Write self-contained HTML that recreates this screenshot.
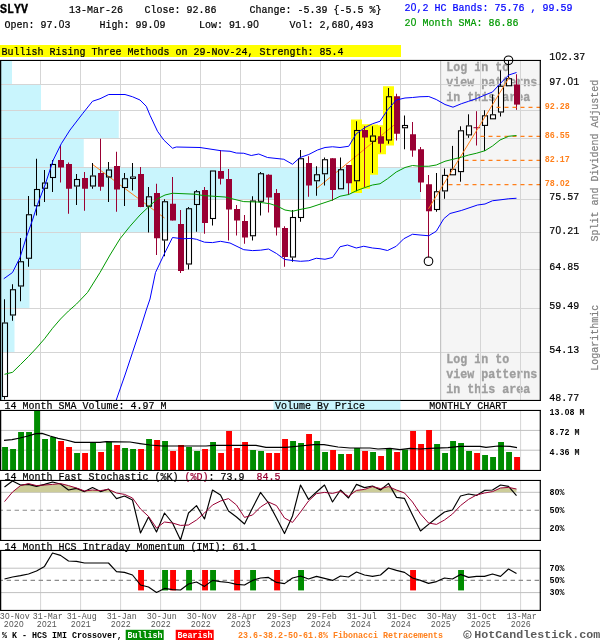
<!DOCTYPE html>
<html><head><meta charset="utf-8"><title>SLYV Monthly Chart</title>
<style>html,body{margin:0;padding:0;background:#fff;}svg{display:block;font-family:"Liberation Mono",monospace;will-change:transform;}text{white-space:pre;}.z{font-family:"Liberation Sans",sans-serif;}</style>
</head><body>
<svg width="600" height="640" viewBox="0 0 600 640" xml:space="preserve">
<rect x="0" y="0" width="600" height="640" fill="#fff"/>
<text transform="translate(0,12.8) scale(1,1.12)" x="0.00 7.00 14.00 21.00" font-size="11.667" font-weight="bold" fill="#000" stroke="#000" stroke-width="0.3" >SLYV</text>
<text transform="translate(69,12.7) scale(1,1.18)" x="0.00 6.00 12.00 18.00 24.00 30.00 36.00 42.00 48.00" font-size="10" fill="#000" stroke="#000" stroke-width="0.2" >13-Mar-26</text>
<text transform="translate(144.5,12.7) scale(1,1.18)" x="0.00 6.00 12.00 18.00 24.00 30.00 36.00 42.00 48.00 54.00 60.00 66.00" font-size="10" fill="#000" stroke="#000" stroke-width="0.2" >Close: 92.86</text>
<text transform="translate(249.5,12.7) scale(1,1.18)" x="0.00 6.00 12.00 18.00 24.00 30.00 36.00 42.00 48.00 54.00 60.00 66.00 72.00 78.00 84.00 90.00 96.00 102.00 108.00 114.00 120.00 126.00" font-size="10" fill="#000" stroke="#000" stroke-width="0.2" >Change: -5.39 {-5.5 %}</text>
<text transform="translate(404.5,10.8) scale(1,1.18)" x="0.00 6.25 12.00 18.00 24.00 30.00 36.00 42.00 48.00 54.00 60.00 66.00 72.00 78.00 84.00 90.00 96.00 102.00 108.00 114.00 120.00 126.00 132.00 138.00 144.00 150.00 156.00 162.00" font-size="10" fill="#0000ff" stroke="#0000ff" stroke-width="0.2" >2<tspan class="z">0</tspan>,2 HC Bands: 75.76 , 99.59</text>
<text transform="translate(4.5,27.7) scale(1,1.18)" x="0.00 6.00 12.00 18.00 24.00 30.00 36.00 42.00 48.00 54.25 60.00" font-size="10" fill="#000" stroke="#000" stroke-width="0.2" >Open: 97.<tspan class="z">0</tspan>3</text>
<text transform="translate(99.5,27.7) scale(1,1.18)" x="0.00 6.00 12.00 18.00 24.00 30.00 36.00 42.00 48.00 54.25 60.00" font-size="10" fill="#000" stroke="#000" stroke-width="0.2" >High: 99.<tspan class="z">0</tspan>9</text>
<text transform="translate(199,27.7) scale(1,1.18)" x="0.00 6.00 12.00 18.00 24.00 30.00 36.00 42.00 48.00 54.25" font-size="10" fill="#000" stroke="#000" stroke-width="0.2" >Low: 91.9<tspan class="z">0</tspan></text>
<text transform="translate(289.5,27.7) scale(1,1.18)" x="0.00 6.00 12.00 18.00 24.00 30.00 36.00 42.00 48.00 54.25 60.00 66.00 72.00 78.00" font-size="10" fill="#000" stroke="#000" stroke-width="0.2" >Vol: 2,68<tspan class="z">0</tspan>,493</text>
<text transform="translate(404.5,25.8) scale(1,1.18)" x="0.00 6.25 12.00 18.00 24.00 30.00 36.00 42.00 48.00 54.00 60.00 66.00 72.00 78.00 84.00 90.00 96.00 102.00 108.00" font-size="10" fill="#009900" stroke="#009900" stroke-width="0.2" >2<tspan class="z">0</tspan> Month SMA: 86.86</text>
<rect x="0" y="45" width="401" height="12" fill="#ffff00"/>
<text transform="translate(1.5,55.3) scale(1,1.18)" x="0.00 6.00 12.00 18.00 24.00 30.00 36.00 42.00 48.00 54.00 60.00 66.00 72.00 78.00 84.00 90.00 96.00 102.00 108.00 114.00 120.00 126.00 132.00 138.00 144.00 150.00 156.00 162.00 168.00 174.00 180.00 186.00 192.00 198.00 204.00 210.00 216.00 222.00 228.00 234.00 240.00 246.00 252.00 258.00 264.00 270.00 276.00 282.00 288.00 294.00 300.00 306.00 312.00 318.00 324.00 330.00 336.00" font-size="10" fill="#000" stroke="#000" stroke-width="0.2" >Bullish Rising Three Methods on 29-Nov-24, Strength: 85.4</text>
<defs><clipPath id="cm"><rect x="0" y="60" width="541" height="341"/></clipPath></defs>
<g clip-path="url(#cm)">
<rect x="440.5" y="60" width="100" height="341" fill="#f5f5f5"/>
<text transform="translate(446.3,70.9) scale(1,1.12)" x="0.00 7.00 14.00 21.00 28.00 35.00 42.00 49.00 56.00" font-size="11.667" font-weight="bold" fill="#9e9e9e" stroke="#9e9e9e" stroke-width="0.3" >Log in to</text>
<text transform="translate(446.3,85.9) scale(1,1.12)" x="0.00 7.00 14.00 21.00 28.00 35.00 42.00 49.00 56.00 63.00 70.00 77.00 84.00" font-size="11.667" font-weight="bold" fill="#9e9e9e" stroke="#9e9e9e" stroke-width="0.3" >view patterns</text>
<text transform="translate(446.3,100.8) scale(1,1.12)" x="0.00 7.00 14.00 21.00 28.00 35.00 42.00 49.00 56.00 63.00 70.00 77.00" font-size="11.667" font-weight="bold" fill="#9e9e9e" stroke="#9e9e9e" stroke-width="0.3" >in this area</text>
<text transform="translate(446.3,363.09999999999997) scale(1,1.12)" x="0.00 7.00 14.00 21.00 28.00 35.00 42.00 49.00 56.00" font-size="11.667" font-weight="bold" fill="#9e9e9e" stroke="#9e9e9e" stroke-width="0.3" >Log in to</text>
<text transform="translate(446.3,377.8) scale(1,1.12)" x="0.00 7.00 14.00 21.00 28.00 35.00 42.00 49.00 56.00 63.00 70.00 77.00 84.00" font-size="11.667" font-weight="bold" fill="#9e9e9e" stroke="#9e9e9e" stroke-width="0.3" >view patterns</text>
<text transform="translate(446.3,392.9) scale(1,1.12)" x="0.00 7.00 14.00 21.00 28.00 35.00 42.00 49.00 56.00 63.00 70.00 77.00" font-size="11.667" font-weight="bold" fill="#9e9e9e" stroke="#9e9e9e" stroke-width="0.3" >in this area</text>
<rect x="1" y="84.0" width="540" height="1" fill="#d5d5d5" fill-opacity="0.999"/>
<rect x="1" y="110.0" width="540" height="1" fill="#d5d5d5" fill-opacity="0.999"/>
<rect x="1" y="138.0" width="540" height="1" fill="#d5d5d5" fill-opacity="0.999"/>
<rect x="1" y="167.0" width="540" height="1" fill="#d5d5d5" fill-opacity="0.999"/>
<rect x="1" y="199.0" width="540" height="1" fill="#d5d5d5" fill-opacity="0.999"/>
<rect x="1" y="232.0" width="540" height="1" fill="#d5d5d5" fill-opacity="0.999"/>
<rect x="1" y="269.0" width="540" height="1" fill="#d5d5d5" fill-opacity="0.999"/>
<rect x="1" y="308.0" width="540" height="1" fill="#d5d5d5" fill-opacity="0.999"/>
<rect x="1" y="352.0" width="540" height="1" fill="#d5d5d5" fill-opacity="0.999"/>
<rect x="40.0" y="60" width="1" height="341" fill="#d5d5d5"/>
<rect x="80.0" y="60" width="1" height="341" fill="#d5d5d5"/>
<rect x="120.0" y="60" width="1" height="341" fill="#d5d5d5"/>
<rect x="160.0" y="60" width="1" height="341" fill="#d5d5d5"/>
<rect x="200.0" y="60" width="1" height="341" fill="#d5d5d5"/>
<rect x="240.0" y="60" width="1" height="341" fill="#d5d5d5"/>
<rect x="280.0" y="60" width="1" height="341" fill="#d5d5d5"/>
<rect x="320.0" y="60" width="1" height="341" fill="#d5d5d5"/>
<rect x="360.0" y="60" width="1" height="341" fill="#d5d5d5"/>
<rect x="400.0" y="60" width="1" height="341" fill="#d5d5d5"/>
<rect x="440.0" y="60" width="1" height="341" fill="#d5d5d5"/>
<rect x="480.0" y="60" width="1" height="341" fill="#d5d5d5"/>
<rect x="520.0" y="60" width="1" height="341" fill="#d5d5d5"/>
<rect x="1" y="61" width="11" height="23.0" fill="#c9f5fd"/>
<rect x="1" y="85.0" width="40" height="25.0" fill="#c9f5fd"/>
<rect x="1" y="111.0" width="117.75" height="27.0" fill="#c9f5fd"/>
<rect x="1" y="139.0" width="82.75" height="28.0" fill="#c9f5fd"/>
<rect x="1" y="168.0" width="419.75" height="31.0" fill="#c9f5fd"/>
<rect x="1" y="200.0" width="203.5" height="32.0" fill="#c9f5fd"/>
<rect x="1" y="233.0" width="79.5" height="36.0" fill="#c9f5fd"/>
<rect x="1" y="270.0" width="28.5" height="38.0" fill="#c9f5fd"/>
<rect x="1" y="309.0" width="13.5" height="43.0" fill="#c9f5fd"/>
<rect x="1" y="353.0" width="2" height="46.5" fill="#c9f5fd"/>
<rect x="440" y="60" width="1.2" height="341" fill="#c4c4c4"/>
<rect x="351.0" y="119.5" width="11" height="73.5" fill="#ffff00"/>
<rect x="359.0" y="124.25" width="11" height="64.5" fill="#ffff00"/>
<rect x="367.0" y="124.5" width="11" height="50.25" fill="#ffff00"/>
<rect x="375.0" y="125.25" width="11" height="29.0" fill="#ffff00"/>
<rect x="383.0" y="86.25" width="11" height="59.25" fill="#ffff00"/>
<rect x="442.5" y="175.40" width="5" height="15.50" fill="#fff"/>
<rect x="450.5" y="169.30" width="5" height="5.50" fill="#fff"/>
<rect x="458.5" y="130.80" width="5" height="40.80" fill="#fff"/>
<rect x="466.5" y="125.90" width="5" height="9.00" fill="#fff"/>
<rect x="482.5" y="115.80" width="5" height="9.60" fill="#fff"/>
<rect x="490.5" y="114.80" width="5" height="4.00" fill="#fff"/>
<rect x="498.5" y="86.25" width="5" height="25.75" fill="#fff"/>
<rect x="506.5" y="78.75" width="5" height="7.00" fill="#fff"/>
<line x1="92" y1="164" x2="164.5" y2="218" stroke="#ff7f1a" stroke-width="1"/>
<line x1="316.25" y1="188.75" x2="396.25" y2="123.25" stroke="#ff7f1a" stroke-width="1"/>
<rect x="4.0" y="299.25" width="1" height="23.25" fill="#000"/>
<rect x="4.0" y="397" width="1" height="2.50" fill="#000"/>
<rect x="2.5" y="323.00" width="5" height="73.50" fill="none" stroke="#000" stroke-width="1.1"/>
<rect x="12.0" y="284.25" width="1" height="5.00" fill="#000"/>
<rect x="12.0" y="315.5" width="1" height="5.25" fill="#000"/>
<rect x="10.5" y="289.75" width="5" height="25.25" fill="none" stroke="#000" stroke-width="1.1"/>
<rect x="20.0" y="238" width="1" height="23.25" fill="#000"/>
<rect x="20.0" y="286.5" width="1" height="14.75" fill="#000"/>
<rect x="18.5" y="261.75" width="5" height="24.25" fill="none" stroke="#000" stroke-width="1.1"/>
<rect x="28.0" y="196" width="1" height="18.25" fill="#000"/>
<rect x="28.0" y="258.75" width="1" height="8.00" fill="#000"/>
<rect x="26.5" y="214.75" width="5" height="43.50" fill="none" stroke="#000" stroke-width="1.1"/>
<rect x="36.0" y="158.75" width="1" height="30.25" fill="#000"/>
<rect x="36.0" y="206.25" width="1" height="9.25" fill="#000"/>
<rect x="34.5" y="189.50" width="5" height="16.25" fill="none" stroke="#000" stroke-width="1.1"/>
<rect x="44.0" y="170" width="1" height="12.50" fill="#000"/>
<rect x="44.0" y="188.75" width="1" height="13.25" fill="#000"/>
<rect x="42.5" y="183.00" width="5" height="5.25" fill="none" stroke="#000" stroke-width="1.1"/>
<rect x="52.0" y="160" width="1" height="4.00" fill="#000"/>
<rect x="52.0" y="178" width="1" height="14.00" fill="#000"/>
<rect x="50.5" y="164.50" width="5" height="13.00" fill="none" stroke="#000" stroke-width="1.1"/>
<rect x="60.0" y="145" width="1" height="37.50" fill="#990033"/>
<rect x="58.0" y="160.00" width="6" height="7.50" fill="#990033"/>
<rect x="68.0" y="162.5" width="1" height="51.25" fill="#990033"/>
<rect x="66.0" y="164.00" width="6" height="24.75" fill="#990033"/>
<rect x="76.0" y="174" width="1" height="5.00" fill="#000"/>
<rect x="76.0" y="186.5" width="1" height="18.50" fill="#000"/>
<rect x="74.5" y="179.50" width="5" height="6.50" fill="none" stroke="#000" stroke-width="1.1"/>
<rect x="84.0" y="172" width="1" height="38.75" fill="#990033"/>
<rect x="82.0" y="178.00" width="6" height="10.75" fill="#990033"/>
<rect x="92.0" y="163" width="1" height="12.50" fill="#000"/>
<rect x="92.0" y="186.5" width="1" height="2.25" fill="#000"/>
<rect x="90.5" y="176.00" width="5" height="10.00" fill="none" stroke="#000" stroke-width="1.1"/>
<rect x="100.0" y="138.75" width="1" height="52.00" fill="#990033"/>
<rect x="98.0" y="173.00" width="6" height="13.75" fill="#990033"/>
<rect x="108.0" y="162" width="1" height="7.50" fill="#000"/>
<rect x="108.0" y="177.5" width="1" height="24.50" fill="#000"/>
<rect x="106.5" y="170.00" width="5" height="7.00" fill="none" stroke="#000" stroke-width="1.1"/>
<rect x="116.0" y="151.75" width="1" height="60.00" fill="#990033"/>
<rect x="114.0" y="166.00" width="6" height="23.50" fill="#990033"/>
<rect x="124.0" y="173" width="1" height="5.25" fill="#000"/>
<rect x="124.0" y="188" width="1" height="18.00" fill="#000"/>
<rect x="122.5" y="178.75" width="5" height="8.75" fill="none" stroke="#000" stroke-width="1.1"/>
<rect x="132.0" y="163" width="1" height="13.50" fill="#000"/>
<rect x="132.0" y="178.5" width="1" height="12.00" fill="#000"/>
<rect x="130.0" y="176.50" width="6" height="2.40" fill="#000"/>
<rect x="131.0" y="177.40" width="4" height="0.60" fill="#c9f5fd"/>
<rect x="140.0" y="167" width="1" height="40.20" fill="#990033"/>
<rect x="138.0" y="174.00" width="6" height="33.00" fill="#990033"/>
<rect x="148.0" y="187" width="1" height="9.30" fill="#000"/>
<rect x="148.0" y="206.7" width="1" height="25.80" fill="#000"/>
<rect x="146.5" y="196.80" width="5" height="9.40" fill="none" stroke="#000" stroke-width="1.1"/>
<rect x="156.0" y="183.75" width="1" height="71.25" fill="#990033"/>
<rect x="154.0" y="193.00" width="6" height="45.25" fill="#990033"/>
<rect x="164.0" y="199.25" width="1" height="2.00" fill="#000"/>
<rect x="164.0" y="240.5" width="1" height="15.75" fill="#000"/>
<rect x="162.5" y="201.75" width="5" height="38.25" fill="none" stroke="#000" stroke-width="1.1"/>
<rect x="172.0" y="177" width="1" height="43.50" fill="#990033"/>
<rect x="170.0" y="203.75" width="6" height="16.75" fill="#990033"/>
<rect x="180.0" y="210" width="1" height="63.00" fill="#990033"/>
<rect x="178.0" y="224.00" width="6" height="47.00" fill="#990033"/>
<rect x="188.0" y="207" width="1" height="1.25" fill="#000"/>
<rect x="188.0" y="264.5" width="1" height="5.00" fill="#000"/>
<rect x="186.5" y="208.75" width="5" height="55.25" fill="none" stroke="#000" stroke-width="1.1"/>
<rect x="196.0" y="190" width="1" height="1.25" fill="#000"/>
<rect x="196.0" y="205" width="1" height="26.75" fill="#000"/>
<rect x="194.5" y="191.75" width="5" height="12.75" fill="none" stroke="#000" stroke-width="1.1"/>
<rect x="204.0" y="187" width="1" height="46.75" fill="#990033"/>
<rect x="202.0" y="190.00" width="6" height="33.00" fill="#990033"/>
<rect x="212.0" y="219" width="1" height="6.50" fill="#000"/>
<rect x="210.5" y="171.00" width="5" height="47.50" fill="none" stroke="#000" stroke-width="1.1"/>
<rect x="220.0" y="150" width="1" height="34.50" fill="#990033"/>
<rect x="218.0" y="171.00" width="6" height="7.75" fill="#990033"/>
<rect x="228.0" y="169" width="1" height="71.50" fill="#990033"/>
<rect x="226.0" y="179.00" width="6" height="30.50" fill="#990033"/>
<rect x="236.0" y="205" width="1" height="30.50" fill="#990033"/>
<rect x="234.0" y="209.00" width="6" height="11.50" fill="#990033"/>
<rect x="244.0" y="215" width="1" height="28.75" fill="#990033"/>
<rect x="242.0" y="221.00" width="6" height="16.50" fill="#990033"/>
<rect x="252.0" y="196.25" width="1" height="4.25" fill="#000"/>
<rect x="252.0" y="236.25" width="1" height="4.25" fill="#000"/>
<rect x="250.5" y="201.00" width="5" height="34.75" fill="none" stroke="#000" stroke-width="1.1"/>
<rect x="260.0" y="172" width="1" height="1.25" fill="#000"/>
<rect x="260.0" y="201.75" width="1" height="13.75" fill="#000"/>
<rect x="258.5" y="173.75" width="5" height="27.50" fill="none" stroke="#000" stroke-width="1.1"/>
<rect x="268.0" y="174.25" width="1" height="38.25" fill="#990033"/>
<rect x="266.0" y="174.75" width="6" height="22.75" fill="#990033"/>
<rect x="276.0" y="189" width="1" height="46.50" fill="#990033"/>
<rect x="274.0" y="193.00" width="6" height="34.50" fill="#990033"/>
<rect x="284.0" y="226.25" width="1" height="40.50" fill="#990033"/>
<rect x="282.0" y="228.00" width="6" height="29.00" fill="#990033"/>
<rect x="292.0" y="210" width="1" height="7.00" fill="#000"/>
<rect x="292.0" y="257.5" width="1" height="4.25" fill="#000"/>
<rect x="290.5" y="217.50" width="5" height="39.50" fill="none" stroke="#000" stroke-width="1.1"/>
<rect x="300.0" y="150" width="1" height="8.25" fill="#000"/>
<rect x="300.0" y="218" width="1" height="3.75" fill="#000"/>
<rect x="298.5" y="158.75" width="5" height="58.75" fill="none" stroke="#000" stroke-width="1.1"/>
<rect x="308.0" y="156.25" width="1" height="40.50" fill="#990033"/>
<rect x="306.0" y="163.00" width="6" height="22.50" fill="#990033"/>
<rect x="316.0" y="166.25" width="1" height="8.00" fill="#000"/>
<rect x="316.0" y="181.25" width="1" height="14.50" fill="#000"/>
<rect x="314.5" y="174.75" width="5" height="6.00" fill="none" stroke="#000" stroke-width="1.1"/>
<rect x="324.0" y="157.5" width="1" height="1.75" fill="#000"/>
<rect x="324.0" y="174.25" width="1" height="11.25" fill="#000"/>
<rect x="322.5" y="159.75" width="5" height="14.00" fill="none" stroke="#000" stroke-width="1.1"/>
<rect x="332.0" y="158.25" width="1" height="42.50" fill="#990033"/>
<rect x="330.0" y="158.25" width="6" height="31.75" fill="#990033"/>
<rect x="340.0" y="157.5" width="1" height="11.75" fill="#000"/>
<rect x="338.5" y="169.75" width="5" height="19.00" fill="none" stroke="#000" stroke-width="1.1"/>
<rect x="348.0" y="165" width="1" height="30.00" fill="#990033"/>
<rect x="346.0" y="165.00" width="6" height="18.25" fill="#990033"/>
<rect x="356.0" y="121.25" width="1" height="8.75" fill="#000"/>
<rect x="356.0" y="181.25" width="1" height="10.00" fill="#000"/>
<rect x="354.5" y="130.50" width="5" height="50.25" fill="none" stroke="#000" stroke-width="1.1"/>
<rect x="364.0" y="126" width="1" height="61.00" fill="#990033"/>
<rect x="362.0" y="130.00" width="6" height="7.50" fill="#990033"/>
<rect x="372.0" y="126.25" width="1" height="9.25" fill="#000"/>
<rect x="372.0" y="141.75" width="1" height="31.25" fill="#000"/>
<rect x="370.5" y="136.00" width="5" height="5.25" fill="none" stroke="#000" stroke-width="1.1"/>
<rect x="380.0" y="127" width="1" height="25.50" fill="#990033"/>
<rect x="378.0" y="136.25" width="6" height="7.50" fill="#990033"/>
<rect x="388.0" y="88" width="1" height="8.25" fill="#000"/>
<rect x="388.0" y="140.5" width="1" height="3.25" fill="#000"/>
<rect x="386.5" y="96.75" width="5" height="43.25" fill="none" stroke="#000" stroke-width="1.1"/>
<rect x="396.0" y="93.75" width="1" height="46.75" fill="#990033"/>
<rect x="394.0" y="96.25" width="6" height="37.50" fill="#990033"/>
<rect x="404.0" y="115.5" width="1" height="9.50" fill="#000"/>
<rect x="404.0" y="128.25" width="1" height="21.00" fill="#000"/>
<rect x="402.5" y="125.50" width="5" height="2.25" fill="none" stroke="#000" stroke-width="1.1"/>
<rect x="412.0" y="122" width="1" height="34.75" fill="#990033"/>
<rect x="410.0" y="134.25" width="6" height="16.25" fill="#990033"/>
<rect x="420.0" y="147" width="1" height="45.00" fill="#990033"/>
<rect x="418.0" y="149.25" width="6" height="33.25" fill="#990033"/>
<rect x="428.0" y="175" width="1" height="82.50" fill="#990033"/>
<rect x="426.0" y="184.25" width="6" height="27.00" fill="#990033"/>
<rect x="436.0" y="173" width="1" height="18.25" fill="#000"/>
<rect x="436.0" y="210" width="1" height="1.75" fill="#000"/>
<rect x="434.5" y="191.75" width="5" height="17.75" fill="none" stroke="#000" stroke-width="1.1"/>
<rect x="444.0" y="168.5" width="1" height="6.40" fill="#000"/>
<rect x="444.0" y="191.4" width="1" height="7.35" fill="#000"/>
<rect x="442.5" y="175.40" width="5" height="15.50" fill="none" stroke="#000" stroke-width="1.1"/>
<rect x="452.0" y="145.9" width="1" height="22.90" fill="#000"/>
<rect x="450.5" y="169.30" width="5" height="5.50" fill="none" stroke="#000" stroke-width="1.1"/>
<rect x="460.0" y="126.3" width="1" height="4.00" fill="#000"/>
<rect x="460.0" y="172.1" width="1" height="9.60" fill="#000"/>
<rect x="458.5" y="130.80" width="5" height="40.80" fill="none" stroke="#000" stroke-width="1.1"/>
<rect x="468.0" y="114.3" width="1" height="11.10" fill="#000"/>
<rect x="468.0" y="135.4" width="1" height="2.40" fill="#000"/>
<rect x="466.5" y="125.90" width="5" height="9.00" fill="none" stroke="#000" stroke-width="1.1"/>
<rect x="476.0" y="111.2" width="1" height="34.30" fill="#990033"/>
<rect x="473.5" y="127.20" width="6.5" height="1" fill="#990033"/>
<rect x="484.0" y="110.3" width="1" height="5.00" fill="#000"/>
<rect x="484.0" y="125.9" width="1" height="25.10" fill="#000"/>
<rect x="482.5" y="115.80" width="5" height="9.60" fill="none" stroke="#000" stroke-width="1.1"/>
<rect x="492.0" y="94.5" width="1" height="19.80" fill="#000"/>
<rect x="490.5" y="114.80" width="5" height="4.00" fill="none" stroke="#000" stroke-width="1.1"/>
<rect x="500.0" y="70.5" width="1" height="15.25" fill="#000"/>
<rect x="500.0" y="112.5" width="1" height="4.00" fill="#000"/>
<rect x="498.5" y="86.25" width="5" height="25.75" fill="none" stroke="#000" stroke-width="1.1"/>
<rect x="508.0" y="60.5" width="1" height="17.75" fill="#000"/>
<rect x="506.5" y="78.75" width="5" height="7.00" fill="none" stroke="#000" stroke-width="1.1"/>
<rect x="516.0" y="74.25" width="1" height="35.55" fill="#990033"/>
<rect x="514.0" y="84.50" width="6" height="20.10" fill="#990033"/>
<line x1="496.5" y1="107.4" x2="541" y2="107.4" stroke="#ff7f1a" stroke-width="1.25" stroke-dasharray="4 4"/>
<line x1="480.5" y1="136.3" x2="541" y2="136.3" stroke="#ff7f1a" stroke-width="1.25" stroke-dasharray="4 4"/>
<line x1="464.5" y1="160.4" x2="541" y2="160.4" stroke="#ff7f1a" stroke-width="1.25" stroke-dasharray="4 4"/>
<line x1="448.5" y1="184.5" x2="541" y2="184.5" stroke="#ff7f1a" stroke-width="1.25" stroke-dasharray="4 4"/>
<line x1="428.5" y1="208.8" x2="509.5" y2="77" stroke="#ff7f1a" stroke-width="1"/>
<polyline points="3.75,278.75 12.50,272.50 20.00,257.50 26.25,237.50 32.50,220.00 37.50,204.50 45.00,185.00 53.25,160.00 61.25,143.75 70.00,130.00 82.50,113.75 92.50,101.25 100.00,98.75 108.75,94.50 125.00,94.50 132.50,96.75 140.00,100.00 146.25,106.25 150.00,115.25 157.50,131.25 163.75,140.00 172.50,148.25 176.25,147.00 200.00,147.50 221.25,150.75 230.00,151.25 236.25,153.00 243.75,153.25 251.25,155.50 258.75,154.00 267.50,157.50 283.75,159.25 292.50,164.25 300.00,157.50 308.75,154.50 317.50,150.00 325.00,147.50 332.50,146.75 340.00,147.50 348.75,146.25 356.25,133.75 365.00,127.50 372.50,123.75 380.00,121.25 387.50,110.00 396.25,100.00 405.00,98.00 412.50,97.50 420.00,96.75 428.75,96.50 436.25,99.50 445.00,104.50 453.00,107.20 461.25,103.75 468.75,101.25 476.25,98.75 485.00,95.00 492.50,92.00 500.00,83.75 508.75,75.00 516.50,72.50" fill="none" stroke="#0000ff" stroke-width="1" stroke-linejoin="round"/>
<polyline points="115.90,401.00 125.00,375.00 132.50,352.50 140.00,330.00 146.25,310.00 150.00,299.00 155.50,272.50 165.00,252.50 172.50,237.50 182.50,238.75 191.25,238.40 196.50,239.30 204.50,242.20 212.50,242.60 220.50,241.30 230.00,243.00 243.75,249.70 252.50,250.60 260.50,250.20 268.50,249.00 276.50,253.50 284.50,259.40 292.50,260.50 300.50,261.30 308.75,260.75 316.25,258.25 325.00,259.25 332.50,257.50 340.00,246.75 347.50,245.00 356.25,248.00 363.75,246.25 372.50,248.00 380.00,248.75 387.50,250.50 396.25,246.25 403.75,238.75 412.50,234.25 420.00,235.00 428.75,235.75 436.25,231.25 443.75,218.75 450.00,213.50 461.25,210.50 465.00,209.25 477.50,205.00 485.00,204.00 492.50,200.75 501.00,199.75 508.75,198.75 516.50,198.25" fill="none" stroke="#0000ff" stroke-width="1" stroke-linejoin="round"/>
<polyline points="4.50,374.30 12.50,372.30 20.50,364.50 28.50,356.50 36.50,348.00 44.50,338.80 52.50,328.30 60.50,319.00 68.50,311.00 76.50,304.00 87.50,292.50 100.00,272.50 110.00,255.00 120.00,238.75 130.00,226.25 140.00,215.00 150.00,205.50 157.50,198.75 165.00,195.00 172.50,193.25 195.00,194.20 203.75,195.60 225.00,197.00 235.00,199.50 243.75,201.60 257.50,202.00 270.00,203.75 277.50,206.25 285.00,210.00 292.50,211.25 300.00,209.50 310.00,207.50 325.00,202.50 332.50,200.00 340.00,196.25 348.75,194.50 356.25,190.75 365.00,187.50 372.50,185.00 380.00,183.75 387.50,178.75 396.25,172.00 405.00,167.50 412.50,165.50 420.00,166.25 428.75,166.25 436.25,165.00 445.00,161.25 450.00,160.00 461.25,157.20 468.75,155.00 476.25,153.30 485.00,150.70 492.50,146.00 500.00,140.00 508.75,136.25 516.50,135.50" fill="none" stroke="#009900" stroke-width="1" stroke-linejoin="round"/>
</g>
<circle cx="428.5" cy="261.25" r="4.3" fill="none" stroke="#000" stroke-width="1.1"/>
<circle cx="508.5" cy="60.3" r="4.3" fill="none" stroke="#000" stroke-width="1.1"/>
<rect x="0" y="60" width="1.25" height="341" fill="#000"/>
<rect x="0" y="59.9" width="541" height="1.1" fill="#000"/>
<rect x="0" y="399.9" width="541" height="1.1" fill="#000"/>
<rect x="539.7" y="60" width="1.2" height="341" fill="#000"/>
<text transform="translate(549.3,60.15) scale(1,1.1)" x="0.00 6.25 12.00 18.00 24.00 30.00" font-size="10" fill="#000" stroke="#000" stroke-width="0.2" >1<tspan class="z">0</tspan>2.37</text>
<text transform="translate(549.3,85.15) scale(1,1.1)" x="0.00 6.00 12.00 18.25 24.00" font-size="10" fill="#000" stroke="#000" stroke-width="0.2" >97.<tspan class="z">0</tspan>1</text>
<text transform="translate(549.3,199.9) scale(1,1.1)" x="0.00 6.00 12.00 18.00 24.00" font-size="10" fill="#000" stroke="#000" stroke-width="0.2" >75.57</text>
<text transform="translate(549.3,233.6) scale(1,1.1)" x="0.00 6.25 12.00 18.00 24.00" font-size="10" fill="#000" stroke="#000" stroke-width="0.2" >7<tspan class="z">0</tspan>.21</text>
<text transform="translate(549.3,269.9) scale(1,1.1)" x="0.00 6.00 12.00 18.00 24.00" font-size="10" fill="#000" stroke="#000" stroke-width="0.2" >64.85</text>
<text transform="translate(549.3,308.9) scale(1,1.1)" x="0.00 6.00 12.00 18.00 24.00" font-size="10" fill="#000" stroke="#000" stroke-width="0.2" >59.49</text>
<text transform="translate(549.3,353.2) scale(1,1.1)" x="0.00 6.00 12.00 18.00 24.00" font-size="10" fill="#000" stroke="#000" stroke-width="0.2" >54.13</text>
<text transform="translate(549.3,400.9) scale(1,1.1)" x="0.00 6.00 12.00 18.00 24.00" font-size="10" fill="#000" stroke="#000" stroke-width="0.2" >48.77</text>
<text transform="translate(544.7,109.0)" x="0.00 5.00 10.00 15.00 20.00" font-size="8.333" font-weight="bold" fill="#ff7f1a" >92.28</text>
<text transform="translate(544.7,138.0)" x="0.00 5.00 10.00 15.00 20.00" font-size="8.333" font-weight="bold" fill="#ff7f1a" >86.55</text>
<text transform="translate(544.7,162.2)" x="0.00 5.00 10.00 15.00 20.00" font-size="8.333" font-weight="bold" fill="#ff7f1a" >82.17</text>
<text transform="translate(544.7,186.2)" x="0.00 5.00 10.00 15.20 20.00" font-size="8.333" font-weight="bold" fill="#ff7f1a" >78.<tspan class="z">0</tspan>2</text>
<text transform="translate(598.3,241.5) rotate(-90) scale(1,1.1)" font-size="10" fill="#808080" stroke="#808080" stroke-width="0.2">Split and Dividend Adjusted</text>
<text transform="translate(598.3,370.8) rotate(-90) scale(1,1.1)" font-size="10" fill="#808080" stroke="#808080" stroke-width="0.2">Logarithmic</text>
<rect x="273.5" y="400.8" width="127" height="9.4" fill="#c9f5fd"/>
<text transform="translate(4.5,409.2) scale(1,1.18)" x="0.00 6.00 12.00 18.00 24.00 30.00 36.00 42.00 48.00 54.00 60.00 66.00 72.00 78.00 84.00 90.00 96.00 102.00 108.00 114.00 120.00 126.00 132.00 138.00 144.00 150.00 156.00" font-size="10" fill="#000" stroke="#000" stroke-width="0.2" >14 Month SMA Volume: 4.97 M</text>
<text transform="translate(275,409.2) scale(1,1.18)" x="0.00 6.00 12.00 18.00 24.00 30.00 36.00 42.00 48.00 54.00 60.00 66.00 72.00 78.00 84.00" font-size="10" fill="#000" stroke="#000" stroke-width="0.2" >Volume By Price</text>
<text transform="translate(429.3,409.2) scale(1,1.18)" x="0.00 6.00 12.00 18.00 24.00 30.00 36.00 42.00 48.00 54.00 60.00 66.00 72.00" font-size="10" fill="#000" stroke="#000" stroke-width="0.2" >MONTHLY CHART</text>
<rect x="40.1" y="410" width="1" height="60" fill="#d5d5d5"/>
<rect x="80.1" y="410" width="1" height="60" fill="#d5d5d5"/>
<rect x="120.1" y="410" width="1" height="60" fill="#d5d5d5"/>
<rect x="160.1" y="410" width="1" height="60" fill="#d5d5d5"/>
<rect x="200.1" y="410" width="1" height="60" fill="#d5d5d5"/>
<rect x="240.1" y="410" width="1" height="60" fill="#d5d5d5"/>
<rect x="280.1" y="410" width="1" height="60" fill="#d5d5d5"/>
<rect x="320.1" y="410" width="1" height="60" fill="#d5d5d5"/>
<rect x="360.1" y="410" width="1" height="60" fill="#d5d5d5"/>
<rect x="400.1" y="410" width="1" height="60" fill="#d5d5d5"/>
<rect x="440.1" y="410" width="1" height="60" fill="#d5d5d5"/>
<rect x="480.1" y="410" width="1" height="60" fill="#d5d5d5"/>
<rect x="520.1" y="410" width="1" height="60" fill="#d5d5d5"/>
<rect x="1" y="429.9" width="540" height="1" fill="#c0c0c0"/>
<rect x="1" y="449.7" width="540" height="1" fill="#c0c0c0"/>
<rect x="2.1" y="447" width="5.9" height="23.00" fill="#008c00"/>
<rect x="10.1" y="449" width="5.9" height="21.00" fill="#008c00"/>
<rect x="18.1" y="432" width="5.9" height="38.00" fill="#008c00"/>
<rect x="26.1" y="432" width="5.9" height="38.00" fill="#008c00"/>
<rect x="34.1" y="411" width="5.9" height="59.00" fill="#008c00"/>
<rect x="42.1" y="439" width="5.9" height="31.00" fill="#008c00"/>
<rect x="50.1" y="437" width="5.9" height="33.00" fill="#008c00"/>
<rect x="58.1" y="441" width="5.9" height="29.00" fill="#ff0000"/>
<rect x="66.1" y="447" width="5.9" height="23.00" fill="#ff0000"/>
<rect x="74.1" y="453" width="5.9" height="17.00" fill="#008c00"/>
<rect x="82.1" y="453" width="5.9" height="17.00" fill="#ff0000"/>
<rect x="90.1" y="443" width="5.9" height="27.00" fill="#008c00"/>
<rect x="98.1" y="452" width="5.9" height="18.00" fill="#ff0000"/>
<rect x="106.1" y="442" width="5.9" height="28.00" fill="#008c00"/>
<rect x="114.1" y="445" width="5.9" height="25.00" fill="#ff0000"/>
<rect x="122.1" y="448" width="5.9" height="22.00" fill="#008c00"/>
<rect x="130.1" y="449" width="5.9" height="21.00" fill="#008c00"/>
<rect x="138.1" y="449" width="5.9" height="21.00" fill="#ff0000"/>
<rect x="146.1" y="439" width="5.9" height="31.00" fill="#008c00"/>
<rect x="154.1" y="440" width="5.9" height="30.00" fill="#ff0000"/>
<rect x="162.1" y="441" width="5.9" height="29.00" fill="#008c00"/>
<rect x="170.1" y="451" width="5.9" height="19.00" fill="#ff0000"/>
<rect x="178.1" y="445" width="5.9" height="25.00" fill="#ff0000"/>
<rect x="186.1" y="447" width="5.9" height="23.00" fill="#008c00"/>
<rect x="194.1" y="451" width="5.9" height="19.00" fill="#008c00"/>
<rect x="202.1" y="449" width="5.9" height="21.00" fill="#ff0000"/>
<rect x="210.1" y="442" width="5.9" height="28.00" fill="#008c00"/>
<rect x="218.1" y="453" width="5.9" height="17.00" fill="#ff0000"/>
<rect x="226.1" y="431" width="5.9" height="39.00" fill="#ff0000"/>
<rect x="234.1" y="448" width="5.9" height="22.00" fill="#ff0000"/>
<rect x="242.1" y="442" width="5.9" height="28.00" fill="#ff0000"/>
<rect x="250.1" y="450" width="5.9" height="20.00" fill="#008c00"/>
<rect x="258.1" y="451" width="5.9" height="19.00" fill="#008c00"/>
<rect x="266.1" y="453" width="5.9" height="17.00" fill="#ff0000"/>
<rect x="274.1" y="453" width="5.9" height="17.00" fill="#ff0000"/>
<rect x="282.1" y="439" width="5.9" height="31.00" fill="#ff0000"/>
<rect x="290.1" y="441" width="5.9" height="29.00" fill="#008c00"/>
<rect x="298.1" y="443" width="5.9" height="27.00" fill="#008c00"/>
<rect x="306.1" y="434" width="5.9" height="36.00" fill="#ff0000"/>
<rect x="314.1" y="441" width="5.9" height="29.00" fill="#008c00"/>
<rect x="322.1" y="452" width="5.9" height="18.00" fill="#008c00"/>
<rect x="330.1" y="450" width="5.9" height="20.00" fill="#ff0000"/>
<rect x="338.1" y="454" width="5.9" height="16.00" fill="#008c00"/>
<rect x="346.1" y="454" width="5.9" height="16.00" fill="#ff0000"/>
<rect x="354.1" y="448" width="5.9" height="22.00" fill="#008c00"/>
<rect x="362.1" y="451" width="5.9" height="19.00" fill="#ff0000"/>
<rect x="370.1" y="452" width="5.9" height="18.00" fill="#008c00"/>
<rect x="378.1" y="456" width="5.9" height="14.00" fill="#ff0000"/>
<rect x="386.1" y="448" width="5.9" height="22.00" fill="#008c00"/>
<rect x="394.1" y="452" width="5.9" height="18.00" fill="#ff0000"/>
<rect x="402.1" y="449.6" width="5.9" height="20.40" fill="#008c00"/>
<rect x="410.1" y="431" width="5.9" height="39.00" fill="#ff0000"/>
<rect x="418.1" y="444" width="5.9" height="26.00" fill="#ff0000"/>
<rect x="426.1" y="430" width="5.9" height="40.00" fill="#ff0000"/>
<rect x="434.1" y="444" width="5.9" height="26.00" fill="#008c00"/>
<rect x="442.1" y="453" width="5.9" height="17.00" fill="#008c00"/>
<rect x="450.1" y="441" width="5.9" height="29.00" fill="#008c00"/>
<rect x="458.1" y="443" width="5.9" height="27.00" fill="#008c00"/>
<rect x="466.1" y="451" width="5.9" height="19.00" fill="#008c00"/>
<rect x="474.1" y="453" width="5.9" height="17.00" fill="#ff0000"/>
<rect x="482.1" y="455" width="5.9" height="15.00" fill="#008c00"/>
<rect x="490.1" y="457" width="5.9" height="13.00" fill="#008c00"/>
<rect x="498.1" y="442" width="5.9" height="28.00" fill="#008c00"/>
<rect x="506.1" y="452" width="5.9" height="18.00" fill="#008c00"/>
<rect x="514.1" y="457" width="5.9" height="13.00" fill="#ff0000"/>
<polyline points="4.00,440.40 12.00,439.60 20.00,438.00 28.00,436.00 36.00,433.60 42.00,433.40 50.00,436.00 58.00,438.40 66.00,440.00 75.00,442.40 100.00,442.40 106.00,441.60 130.00,442.00 140.00,443.60 150.00,445.00 162.00,446.00 206.00,446.00 214.00,445.40 226.00,445.40 256.00,445.40 266.00,447.40 286.00,447.40 300.00,446.00 314.00,444.60 324.00,444.60 338.00,447.00 350.00,448.00 370.00,448.00 378.00,449.00 390.00,448.40 400.00,449.60 410.00,448.40 420.00,449.00 430.00,448.40 448.00,447.60 460.00,446.40 480.00,446.40 486.00,447.40 498.00,446.00 510.00,446.40 517.00,447.60" fill="none" stroke="#000" stroke-width="1.15" stroke-linejoin="round"/>
<rect x="0" y="410" width="1.25" height="61" fill="#000"/>
<rect x="0" y="409.9" width="541" height="1.1" fill="#000"/>
<rect x="0" y="469.9" width="541" height="1.1" fill="#000"/>
<rect x="539.7" y="410" width="1.2" height="61" fill="#000"/>
<text transform="translate(549.5,414.7)" x="0.00 5.00 10.00 15.20 20.00 25.00 30.00" font-size="8.333" font-weight="bold" fill="#000" >13.<tspan class="z">0</tspan>8 M</text>
<text transform="translate(549.5,435.1)" x="0.00 5.00 10.00 15.00 20.00 25.00" font-size="8.333" font-weight="bold" fill="#000" >8.72 M</text>
<text transform="translate(549.5,454.5)" x="0.00 5.00 10.00 15.00 20.00 25.00" font-size="8.333" font-weight="bold" fill="#000" >4.36 M</text>
<text transform="translate(4.5,479.6) scale(1,1.18)" x="0.00 6.00 12.00 18.00 24.00 30.00 36.00 42.00 48.00 54.00 60.00 66.00 72.00 78.00 84.00 90.00 96.00 102.00 108.00 114.00 120.00 126.00 132.00 138.00 144.00 150.00 156.00 162.00 168.00 174.00" font-size="10" fill="#000" stroke="#000" stroke-width="0.2" >14 Month Fast Stochastic (%K) </text>
<text transform="translate(184.5,479.6) scale(1,1.18)" x="0.00 6.00 12.00 18.00" font-size="10" fill="#990033" stroke="#990033" stroke-width="0.2" >(%D)</text>
<text transform="translate(208.5,479.6) scale(1,1.18)" x="0.00 6.00 12.00 18.00 24.00 30.00 36.00" font-size="10" fill="#000" stroke="#000" stroke-width="0.2" >: 73.9 </text>
<text transform="translate(256.5,479.6) scale(1,1.18)" x="0.00 6.00 12.00 18.00" font-size="10" fill="#990033" stroke="#990033" stroke-width="0.2" >84.5</text>
<rect x="40.1" y="480" width="1" height="60" fill="#d5d5d5"/>
<rect x="80.1" y="480" width="1" height="60" fill="#d5d5d5"/>
<rect x="120.1" y="480" width="1" height="60" fill="#d5d5d5"/>
<rect x="160.1" y="480" width="1" height="60" fill="#d5d5d5"/>
<rect x="200.1" y="480" width="1" height="60" fill="#d5d5d5"/>
<rect x="240.1" y="480" width="1" height="60" fill="#d5d5d5"/>
<rect x="280.1" y="480" width="1" height="60" fill="#d5d5d5"/>
<rect x="320.1" y="480" width="1" height="60" fill="#d5d5d5"/>
<rect x="360.1" y="480" width="1" height="60" fill="#d5d5d5"/>
<rect x="400.1" y="480" width="1" height="60" fill="#d5d5d5"/>
<rect x="440.1" y="480" width="1" height="60" fill="#d5d5d5"/>
<rect x="480.1" y="480" width="1" height="60" fill="#d5d5d5"/>
<rect x="520.1" y="480" width="1" height="60" fill="#d5d5d5"/>
<rect x="1" y="491.8" width="540" height="1" fill="#c0c0c0"/>
<rect x="1" y="527.9" width="540" height="1" fill="#c0c0c0"/>
<line x1="-1.4" y1="510.3" x2="540" y2="510.3" stroke="#8c8c8c" stroke-width="1.1" stroke-dasharray="4.4 3.6"/>
<polygon points="4.50,492.30 4.50,492.30 12.50,492.00 20.50,485.60 28.50,483.60 36.50,485.60 44.50,485.00 52.50,484.40 60.50,483.60 68.50,485.60 76.50,488.00 84.50,491.00 92.50,490.00 100.50,490.60 108.50,489.40 116.50,492.30 124.50,492.30 132.50,492.30 140.50,492.30 148.50,492.30 156.50,492.30 164.50,492.30 172.50,492.30 180.50,492.30 188.50,492.30 196.50,492.30 204.50,492.30 212.50,492.30 220.50,492.30 228.50,492.30 236.50,492.30 244.50,492.30 252.50,492.30 260.50,492.30 268.50,492.30 276.50,492.30 284.50,492.30 292.50,492.30 300.50,492.30 308.50,492.30 316.50,492.30 324.50,492.30 332.50,492.30 340.50,491.40 348.50,492.30 356.50,490.40 364.50,489.40 372.50,486.60 380.50,488.60 388.50,486.60 396.50,490.00 404.50,492.30 412.50,492.30 420.50,492.30 428.50,492.30 436.50,492.30 444.50,492.30 452.50,492.30 460.50,492.30 468.50,492.30 476.50,492.30 484.50,492.30 492.50,491.60 500.50,488.00 508.50,487.40 516.50,489.00 516.50,492.30" fill="#cccc99"/>
<polyline points="4.50,487.00 12.50,481.00 20.50,485.00 28.50,484.40 36.50,486.40 44.50,484.40 52.50,482.00 60.50,484.00 68.50,490.00 76.50,488.40 84.50,491.60 92.50,487.60 100.50,491.60 108.50,489.00 116.50,498.60 124.50,496.00 132.50,500.00 140.50,533.00 148.50,517.00 156.50,532.00 164.50,513.00 172.50,523.00 180.50,540.00 188.50,513.00 196.50,505.60 204.50,519.00 212.50,490.00 220.50,495.00 228.50,511.00 236.50,517.00 244.50,524.00 252.50,508.00 260.50,492.40 268.50,503.00 276.50,518.00 284.50,533.60 292.50,516.00 300.50,485.00 308.50,499.40 316.50,492.00 324.50,485.00 332.50,502.00 340.50,490.00 348.50,498.00 356.50,484.40 364.50,487.60 372.50,486.00 380.50,490.00 388.50,483.40 396.50,497.40 404.50,498.40 412.50,515.00 420.50,531.00 428.50,524.40 436.50,518.00 444.50,512.00 452.50,510.00 460.50,496.00 468.50,494.00 476.50,495.40 484.50,490.40 492.50,490.00 500.50,485.00 508.50,486.40 516.50,495.60" fill="none" stroke="#000" stroke-width="1.15" stroke-linejoin="round"/>
<polyline points="4.50,501.60 12.50,492.00 20.50,485.60 28.50,483.60 36.50,485.60 44.50,485.00 52.50,484.40 60.50,483.60 68.50,485.60 76.50,488.00 84.50,491.00 92.50,490.00 100.50,490.60 108.50,489.40 116.50,493.00 124.50,494.40 132.50,498.00 140.50,509.00 148.50,516.40 156.50,528.00 164.50,522.00 172.50,523.00 180.50,525.40 188.50,525.00 196.50,520.00 204.50,513.00 212.50,505.00 220.50,501.00 228.50,498.60 236.50,505.00 244.50,517.40 252.50,515.00 260.50,507.00 268.50,502.00 276.50,505.60 284.50,518.00 292.50,522.40 300.50,512.00 308.50,501.00 316.50,493.60 324.50,492.40 332.50,493.40 340.50,491.40 348.50,496.40 356.50,490.40 364.50,489.40 372.50,486.60 380.50,488.60 388.50,486.60 396.50,490.00 404.50,493.00 412.50,502.00 420.50,514.00 428.50,523.00 436.50,524.40 444.50,520.00 452.50,514.00 460.50,505.60 468.50,499.40 476.50,495.00 484.50,493.00 492.50,491.60 500.50,488.00 508.50,487.40 516.50,489.00" fill="none" stroke="#990033" stroke-width="1"/>
<rect x="0" y="480" width="1.25" height="61" fill="#000"/>
<rect x="0" y="479.9" width="541" height="1.1" fill="#000"/>
<rect x="0" y="539.9" width="541" height="1.1" fill="#000"/>
<rect x="539.7" y="480" width="1.2" height="61" fill="#000"/>
<text transform="translate(549.5,495.1)" x="0.00 5.20 10.00" font-size="8.333" font-weight="bold" fill="#000" >8<tspan class="z">0</tspan>%</text>
<text transform="translate(549.5,513.1)" x="0.00 5.20 10.00" font-size="8.333" font-weight="bold" fill="#000" >5<tspan class="z">0</tspan>%</text>
<text transform="translate(549.5,531.1999999999999)" x="0.00 5.20 10.00" font-size="8.333" font-weight="bold" fill="#000" >2<tspan class="z">0</tspan>%</text>
<text transform="translate(4.5,549.6) scale(1,1.18)" x="0.00 6.00 12.00 18.00 24.00 30.00 36.00 42.00 48.00 54.00 60.00 66.00 72.00 78.00 84.00 90.00 96.00 102.00 108.00 114.00 120.00 126.00 132.00 138.00 144.00 150.00 156.00 162.00 168.00 174.00 180.00 186.00 192.00 198.00 204.00 210.00 216.00 222.00 228.00 234.00 240.00 246.00" font-size="10" fill="#000" stroke="#000" stroke-width="0.2" >14 Month HCS Intraday Momentum (IMI): 61.1</text>
<rect x="40.1" y="550" width="1" height="60" fill="#d5d5d5"/>
<rect x="80.1" y="550" width="1" height="60" fill="#d5d5d5"/>
<rect x="120.1" y="550" width="1" height="60" fill="#d5d5d5"/>
<rect x="160.1" y="550" width="1" height="60" fill="#d5d5d5"/>
<rect x="200.1" y="550" width="1" height="60" fill="#d5d5d5"/>
<rect x="240.1" y="550" width="1" height="60" fill="#d5d5d5"/>
<rect x="280.1" y="550" width="1" height="60" fill="#d5d5d5"/>
<rect x="320.1" y="550" width="1" height="60" fill="#d5d5d5"/>
<rect x="360.1" y="550" width="1" height="60" fill="#d5d5d5"/>
<rect x="400.1" y="550" width="1" height="60" fill="#d5d5d5"/>
<rect x="440.1" y="550" width="1" height="60" fill="#d5d5d5"/>
<rect x="480.1" y="550" width="1" height="60" fill="#d5d5d5"/>
<rect x="520.1" y="550" width="1" height="60" fill="#d5d5d5"/>
<rect x="1" y="567.7" width="540" height="1" fill="#c0c0c0"/>
<rect x="1" y="592.1" width="540" height="1" fill="#c0c0c0"/>
<line x1="-1.4" y1="580.4" x2="540" y2="580.4" stroke="#8c8c8c" stroke-width="1.1" stroke-dasharray="4.4 3.6"/>
<rect x="138.1" y="570" width="5.9" height="20.4" fill="#ff0000"/>
<rect x="162.1" y="570" width="5.9" height="20.4" fill="#008c00"/>
<rect x="170.1" y="570" width="5.9" height="20.4" fill="#ff0000"/>
<rect x="186.1" y="570" width="5.9" height="20.4" fill="#008c00"/>
<rect x="202.1" y="570" width="5.9" height="20.4" fill="#ff0000"/>
<rect x="210.1" y="570" width="5.9" height="20.4" fill="#008c00"/>
<rect x="234.1" y="570" width="5.9" height="20.4" fill="#ff0000"/>
<rect x="250.1" y="570" width="5.9" height="20.4" fill="#008c00"/>
<rect x="274.1" y="570" width="5.9" height="20.4" fill="#ff0000"/>
<rect x="298.1" y="570" width="5.9" height="20.4" fill="#008c00"/>
<rect x="410.1" y="570" width="5.9" height="20.4" fill="#ff0000"/>
<rect x="458.1" y="570" width="5.9" height="20.4" fill="#008c00"/>
<polyline points="4.50,579.00 12.50,577.00 20.50,575.60 28.50,574.00 36.50,571.00 44.50,566.40 52.50,553.00 60.50,555.40 68.50,561.00 76.50,561.40 84.50,563.00 92.50,563.00 100.50,563.00 108.50,563.00 116.50,571.60 124.50,572.40 132.50,575.00 140.50,585.00 148.50,587.00 156.50,592.40 164.50,588.40 172.50,589.60 180.50,590.00 188.50,584.00 196.50,582.00 204.50,586.40 212.50,580.40 220.50,581.60 228.50,582.50 236.50,584.40 244.50,585.00 252.50,580.40 260.50,578.00 268.50,577.40 276.50,582.40 284.50,583.60 292.50,578.00 300.50,576.00 308.50,579.00 316.50,576.40 324.50,578.40 332.50,580.40 340.50,576.00 348.50,577.00 356.50,572.00 364.50,575.00 372.50,576.40 380.50,575.00 388.50,568.00 396.50,570.40 404.50,572.40 412.50,578.00 420.50,580.40 428.50,583.40 436.50,581.60 444.50,578.00 452.50,579.00 460.50,574.40 468.50,577.40 476.50,576.40 484.50,576.40 492.50,574.00 500.50,576.40 508.50,569.00 516.50,573.40" fill="none" stroke="#000" stroke-width="1.15" stroke-linejoin="round"/>
<rect x="0" y="550" width="1.25" height="61" fill="#000"/>
<rect x="0" y="549.9" width="541" height="1.1" fill="#000"/>
<rect x="0" y="609.9" width="541" height="1.1" fill="#000"/>
<rect x="539.7" y="550" width="1.2" height="61" fill="#000"/>
<text transform="translate(549.5,571.0)" x="0.00 5.20 10.00" font-size="8.333" font-weight="bold" fill="#000" >7<tspan class="z">0</tspan>%</text>
<text transform="translate(549.5,583.1999999999999)" x="0.00 5.20 10.00" font-size="8.333" font-weight="bold" fill="#000" >5<tspan class="z">0</tspan>%</text>
<text transform="translate(549.5,595.4)" x="0.00 5.20 10.00" font-size="8.333" font-weight="bold" fill="#000" >3<tspan class="z">0</tspan>%</text>
<text transform="translate(-0.3,619.0)" x="0.00 5.20 10.00 15.00 20.00 25.00" font-size="8.333" fill="#555" >3<tspan class="z">0</tspan>-Nov</text>
<text transform="translate(3.7,626.7)" x="0.00 5.20 10.00 15.20" font-size="8.333" fill="#555" >2<tspan class="z">0</tspan>2<tspan class="z">0</tspan></text>
<text transform="translate(32.7,619.0)" x="0.00 5.00 10.00 15.00 20.00 25.00" font-size="8.333" fill="#555" >31-Mar</text>
<text transform="translate(36.7,626.7)" x="0.00 5.20 10.00 15.00" font-size="8.333" fill="#555" >2<tspan class="z">0</tspan>21</text>
<text transform="translate(66.7,619.0)" x="0.00 5.00 10.00 15.00 20.00 25.00" font-size="8.333" fill="#555" >31-Aug</text>
<text transform="translate(70.7,626.7)" x="0.00 5.20 10.00 15.00" font-size="8.333" fill="#555" >2<tspan class="z">0</tspan>21</text>
<text transform="translate(106.7,619.0)" x="0.00 5.00 10.00 15.00 20.00 25.00" font-size="8.333" fill="#555" >31-Jan</text>
<text transform="translate(110.7,626.7)" x="0.00 5.20 10.00 15.00" font-size="8.333" fill="#555" >2<tspan class="z">0</tspan>22</text>
<text transform="translate(146.7,619.0)" x="0.00 5.20 10.00 15.00 20.00 25.00" font-size="8.333" fill="#555" >3<tspan class="z">0</tspan>-Jun</text>
<text transform="translate(150.7,626.7)" x="0.00 5.20 10.00 15.00" font-size="8.333" fill="#555" >2<tspan class="z">0</tspan>22</text>
<text transform="translate(186.7,619.0)" x="0.00 5.20 10.00 15.00 20.00 25.00" font-size="8.333" fill="#555" >3<tspan class="z">0</tspan>-Nov</text>
<text transform="translate(190.7,626.7)" x="0.00 5.20 10.00 15.00" font-size="8.333" fill="#555" >2<tspan class="z">0</tspan>22</text>
<text transform="translate(226.7,619.0)" x="0.00 5.00 10.00 15.00 20.00 25.00" font-size="8.333" fill="#555" >28-Apr</text>
<text transform="translate(230.7,626.7)" x="0.00 5.20 10.00 15.00" font-size="8.333" fill="#555" >2<tspan class="z">0</tspan>23</text>
<text transform="translate(266.7,619.0)" x="0.00 5.00 10.00 15.00 20.00 25.00" font-size="8.333" fill="#555" >29-Sep</text>
<text transform="translate(270.7,626.7)" x="0.00 5.20 10.00 15.00" font-size="8.333" fill="#555" >2<tspan class="z">0</tspan>23</text>
<text transform="translate(306.7,619.0)" x="0.00 5.00 10.00 15.00 20.00 25.00" font-size="8.333" fill="#555" >29-Feb</text>
<text transform="translate(310.7,626.7)" x="0.00 5.20 10.00 15.00" font-size="8.333" fill="#555" >2<tspan class="z">0</tspan>24</text>
<text transform="translate(346.7,619.0)" x="0.00 5.00 10.00 15.00 20.00 25.00" font-size="8.333" fill="#555" >31-Jul</text>
<text transform="translate(350.7,626.7)" x="0.00 5.20 10.00 15.00" font-size="8.333" fill="#555" >2<tspan class="z">0</tspan>24</text>
<text transform="translate(386.7,619.0)" x="0.00 5.00 10.00 15.00 20.00 25.00" font-size="8.333" fill="#555" >31-Dec</text>
<text transform="translate(390.7,626.7)" x="0.00 5.20 10.00 15.00" font-size="8.333" fill="#555" >2<tspan class="z">0</tspan>24</text>
<text transform="translate(426.7,619.0)" x="0.00 5.20 10.00 15.00 20.00 25.00" font-size="8.333" fill="#555" >3<tspan class="z">0</tspan>-May</text>
<text transform="translate(430.7,626.7)" x="0.00 5.20 10.00 15.00" font-size="8.333" fill="#555" >2<tspan class="z">0</tspan>25</text>
<text transform="translate(466.7,619.0)" x="0.00 5.00 10.00 15.00 20.00 25.00" font-size="8.333" fill="#555" >31-Oct</text>
<text transform="translate(470.7,626.7)" x="0.00 5.20 10.00 15.00" font-size="8.333" fill="#555" >2<tspan class="z">0</tspan>25</text>
<text transform="translate(506.7,619.0)" x="0.00 5.00 10.00 15.00 20.00 25.00" font-size="8.333" fill="#555" >13-Mar</text>
<text transform="translate(510.7,626.7)" x="0.00 5.20 10.00 15.00" font-size="8.333" fill="#555" >2<tspan class="z">0</tspan>26</text>
<text transform="translate(2,637.7)" x="0.00 5.00 10.00 15.00 20.00 25.00 30.00 35.00 40.00 45.00 50.00 55.00 60.00 65.00 70.00 75.00 80.00 85.00 90.00 95.00 100.00 105.00 110.00 115.00" font-size="8.333" font-weight="bold" fill="#000" >% K - HCS IMI Crossover,</text>
<rect x="125.7" y="629.8" width="38" height="10.2" fill="#008c00"/>
<text transform="translate(127.5,637.7)" x="0.00 5.00 10.00 15.00 20.00 25.00 30.00" font-size="8.333" font-weight="bold" fill="#fff" >Bullish</text>
<rect x="175.7" y="629.8" width="38" height="10.2" fill="#ff0000"/>
<text transform="translate(177.5,637.7)" x="0.00 5.00 10.00 15.00 20.00 25.00 30.00" font-size="8.333" font-weight="bold" fill="#fff" >Bearish</text>
<text transform="translate(238,637.7)" x="0.00 5.00 10.00 15.00 20.00 25.00 30.00 35.00 40.00 45.00 50.00 55.20 60.00 65.00 70.00 75.00 80.00 85.00 90.00 95.00 100.00 105.00 110.00 115.00 120.00 125.00 130.00 135.00 140.00 145.00 150.00 155.00 160.00 165.00 170.00 175.00 180.00 185.00 190.00 195.00 200.00" font-size="8.333" font-weight="bold" fill="#ff7f1a" >23.6-38.2-5<tspan class="z">0</tspan>-61.8% Fibonacci Retracements</text>
<text x="474.3" y="638.3" font-size="11.667" font-weight="bold" fill="#5c5c5c">HotCandlestick.com</text>
<circle cx="467.4" cy="634.5" r="3.8" fill="none" stroke="#5c5c5c" stroke-width="1"/>
<text x="465.2" y="636.6" font-size="6.5" font-weight="bold" fill="#5c5c5c">c</text>
</svg>
</body></html>
